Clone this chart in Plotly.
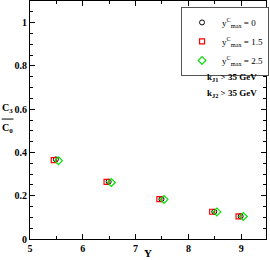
import plotly.graph_objects as go

# Data
y_rap = [5.5, 6.5, 7.5, 8.5, 9.0]
x_c0 = [5.49, 6.49, 7.49, 8.49, 8.99]
x_c15 = [5.45, 6.45, 7.45, 8.45, 8.95]
x_c25 = [5.54, 6.54, 7.54, 8.54, 9.04]
r_c0 = [0.368, 0.265, 0.184, 0.126, 0.105]
r_c15 = [0.365, 0.264, 0.184, 0.126, 0.105]
r_c25 = [0.362, 0.261, 0.183, 0.125, 0.104]
names = ["y<sup>C</sup><sub>max</sub> = 0", "y<sup>C</sup><sub>max</sub> = 1.5", "y<sup>C</sup><sub>max</sub> = 2.5"]
xticks = [5, 6, 7, 8, 9]
yticks = [0, 0.2, 0.4, 0.6, 0.8, 1.0]
ytick_text = ["0", "0.2", "0.4", "0.6", "0.8", "1"]

font = "Liberation Serif"
fig = go.Figure()
fig.add_trace(go.Scatter(x=x_c0, y=r_c0, mode="markers", name=names[0],
                         marker=dict(symbol="circle-open", color="black", size=5, line=dict(width=1))))
fig.add_trace(go.Scatter(x=x_c15, y=r_c15, mode="markers", name=names[1],
                         marker=dict(symbol="square-open", color="red", size=5, line=dict(width=1.2))))
fig.add_trace(go.Scatter(x=x_c25, y=r_c25, mode="markers", name=names[2],
                         marker=dict(symbol="diamond-open", color="#00e000", size=6, line=dict(width=1.2))))

axis_common = dict(showgrid=False, zeroline=False, showline=True, linecolor="black", linewidth=1,
                   mirror="ticks", ticks="inside", ticklen=5, tickcolor="black", automargin=False,
                   tickfont=dict(family=font, size=10, color="black"))
fig.update_xaxes(range=[5, 9.47],
                 tickvals=xticks, ticktext=[f"<b>{t}</b>" for t in xticks],
                 minor=dict(dtick=0.5, tick0=5, ticks="inside", ticklen=3, tickcolor="black"),
                 **axis_common)
fig.update_yaxes(range=[0, 1.1],
                 tickvals=yticks, ticktext=[f"<b>{t}</b>" for t in ytick_text],
                 minor=dict(dtick=0.05, tick0=0, ticks="inside", ticklen=3, tickcolor="black"),
                 **axis_common)

fig.add_annotation(text="<b>Y</b>", xref="paper", yref="paper", x=0.5, y=-0.06,
                   showarrow=False, font=dict(family=font, size=11, color="black"),
                   xanchor="center", yanchor="middle")
fig.add_annotation(text="<b>C<sub>3</sub></b>", xref="paper", yref="paper",
                   x=-0.095, y=0.55, showarrow=False, font=dict(family=font, size=10, color="black"),
                   xanchor="center", yanchor="middle")
fig.add_annotation(text="<b>C<sub>0</sub></b>", xref="paper", yref="paper",
                   x=-0.095, y=0.465, showarrow=False, font=dict(family=font, size=10, color="black"),
                   xanchor="center", yanchor="middle")
fig.add_shape(type="line", xref="paper", yref="paper", x0=-0.12, x1=-0.07, y0=0.504, y1=0.504,
              line=dict(color="black", width=1))
fig.add_annotation(text="<b>k<sub>J1</sub> > 35 GeV</b>", xref="paper", yref="paper",
                   x=0.74, y=0.68, showarrow=False, font=dict(family=font, size=9, color="black"),
                   xanchor="left", yanchor="middle")
fig.add_annotation(text="<b>k<sub>J2</sub> > 35 GeV</b>", xref="paper", yref="paper",
                   x=0.74, y=0.61, showarrow=False, font=dict(family=font, size=9, color="black"),
                   xanchor="left", yanchor="middle")

fig.update_layout(
    width=270, height=260,
    margin=dict(l=30, r=2, t=1, b=21),
    plot_bgcolor="white", paper_bgcolor="white",
    showlegend=True,
    legend=dict(x=0.64, y=0.975, xanchor="left", yanchor="top",
                bgcolor="white", bordercolor="#555", borderwidth=1,
                font=dict(family=font, size=9, color="black"),
                itemwidth=30, tracegroupgap=0),
)
fig.write_html("out.html", config={"displayModeBar": False},
               post_script="document.body.style.margin='0';document.body.style.overflow='hidden';")
